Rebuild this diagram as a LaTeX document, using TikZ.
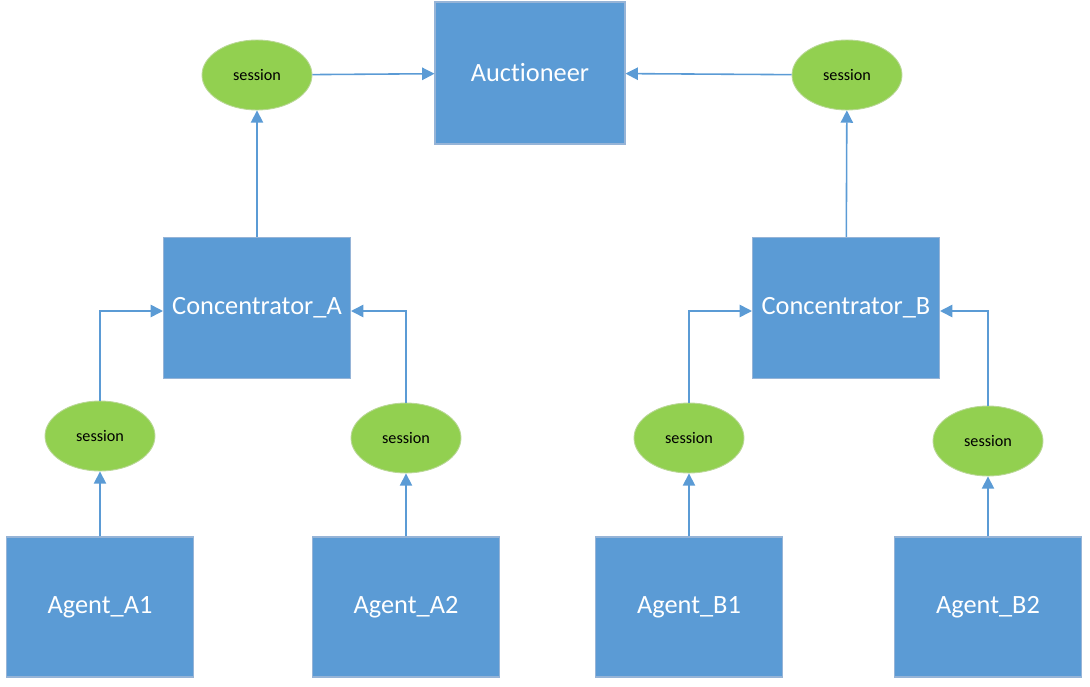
\documentclass[tikz,border=0pt]{standalone}
\usepackage{fontspec}
\setmainfont[Ligatures=CommonOff]{Carlito}
\usetikzlibrary{
        arrows.meta,
        positioning,
        shapes.geometric
    }
\definecolor{boxblue}{RGB}{91,155,213}
\definecolor{boxedge}{RGB}{150,180,215}
\definecolor{sessgreen}{RGB}{146,208,80}
\definecolor{sessedge}{RGB}{185,215,150}
\definecolor{linkblue}{RGB}{91,155,213}
\tikzset{>={Triangle[length=7pt,width=7pt]},auto}
\tikzset{
    unit/.style={rectangle,fill=boxblue,draw=boxedge,line width=0.6pt,
        text=white,font=\fontsize{15}{18}\selectfont,
        minimum width=3.74cm,minimum height=2.82cm,inner sep=0pt},
    sess/.style={ellipse,fill=sessgreen,draw=sessedge,line width=0.5pt,
        text=black,font=\fontsize{9.2}{11}\selectfont,
        minimum width=2.2cm,minimum height=1.4cm,inner sep=0pt},
    link/.style={->,color=linkblue,line width=0.9pt}
}

\begin{document}
\begin{tikzpicture}[x=0.02cm,y=-0.02cm]
            \useasboundingbox (0,0) rectangle (1090,687);
            % top level
            \node[unit,minimum width=3.8cm,minimum height=2.84cm] (auct) at (530,73) {Auctioneer};
            \node[sess] (sessA) at (257,75) {session};
            \node[sess] (sessB) at (847,75) {session};
            % concentrators
            \node[unit] (concA) at (257,308) {Concentrator\_A};
            \node[unit] (concB) at (846,308) {Concentrator\_B};
            % agent sessions
            \node[sess] (sA1) at (100,436) {session};
            \node[sess] (sA2) at (406,438) {session};
            \node[sess] (sB1) at (689,438) {session};
            \node[sess] (sB2) at (988,441) {session};
            % agents
            \node[unit,minimum height=2.8cm] (agA1) at (100,607) {Agent\_A1};
            \node[unit,minimum height=2.8cm] (agA2) at (406,607) {Agent\_A2};
            \node[unit,minimum height=2.8cm] (agB1) at (689,607) {Agent\_B1};
            \node[unit,minimum height=2.8cm] (agB2) at (988,607) {Agent\_B2};
            \path[link]
                (agA1) edge (sA1)
                (agA2) edge (sA2)
                (agB1) edge (sB1)
                (agB2) edge (sB2)
                (concA) edge (sessA)
                (concB) edge (sessB)
                (sessA) edge (auct)
                (sessB) edge (auct)
            ;
            \draw[link] (sA1.north) |- ([yshift=-0.06cm]concA.west);
            \draw[link] (sA2.north) |- ([yshift=-0.06cm]concA.east);
            \draw[link] (sB1.north) |- ([yshift=-0.06cm]concB.west);
            \draw[link] (sB2.north) |- ([yshift=-0.06cm]concB.east);
        \end{tikzpicture}
\end{document}
